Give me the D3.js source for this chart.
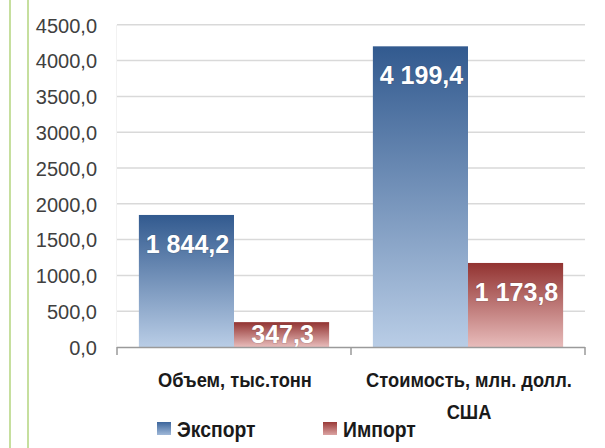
<!DOCTYPE html>
<html>
<head>
<meta charset="utf-8">
<script src="https://cdn.jsdelivr.net/npm/d3@7"></script>
<style>
  html, body { margin: 0; padding: 0; background: #fff; }
  svg { display: block; }
</style>
</head>
<body>
<svg id="chart" width="605" height="448"></svg>
<script>
const categories = ["Объем, тыс.тонн", "Стоимость, млн. долл. США"];
const categoryLines = [["Объем, тыс.тонн"], ["Стоимость, млн. долл.", "США"]];
const seriesNames = ["Экспорт", "Импорт"];
const exportValues = [1844.2, 4199.4];
const importValues = [347.3, 1173.8];
const yTicks = [0, 500, 1000, 1500, 2000, 2500, 3000, 3500, 4000, 4500];

const seriesValues = [exportValues, importValues];
const gradients = [
  { id: "gExp", top: "#325a8f", bottom: "#b9cde6", legTop: "#3d669c", legBottom: "#9fb8d8" },
  { id: "gImp", top: "#923331", bottom: "#e8bcbb", legTop: "#9a3a38", legBottom: "#dba3a2" }
];

const svg = d3.select("#chart");
const locale = d3.formatLocale({ decimal: ",", thousands: " ", grouping: [3], currency: ["", ""] });
const fmtTick = locale.format(".1f");
const fmtVal = locale.format(",.1f");

const plot = { left: 117, right: 585, top: 24.8, bottom: 347 };

const y = d3.scaleLinear().domain([0, 4500]).range([plot.bottom, plot.top]);
const x0 = d3.scaleBand().domain(categories).range([plot.left, plot.right]).paddingInner(0).paddingOuter(0);
const x1 = d3.scaleBand().domain(seriesNames).range([0, x0.bandwidth()]).paddingInner(0).paddingOuter(0.23);

// decorative green page lines
svg.append("rect").attr("x", 9).attr("y", 0).attr("width", 2).attr("height", 448).attr("fill", "#c6df9e");
svg.append("rect").attr("x", 27).attr("y", 0).attr("width", 2).attr("height", 448).attr("fill", "#c6df9e");

// defs gradients
const defs = svg.append("defs");
gradients.forEach(g => {
  const lg = defs.append("linearGradient").attr("id", g.id).attr("x1", 0).attr("y1", 0).attr("x2", 0).attr("y2", 1);
  lg.append("stop").attr("offset", "0%").attr("stop-color", g.top);
  lg.append("stop").attr("offset", "100%").attr("stop-color", g.bottom);
  const lg2 = defs.append("linearGradient").attr("id", g.id + "L").attr("x1", 0).attr("y1", 0).attr("x2", 0).attr("y2", 1);
  lg2.append("stop").attr("offset", "0%").attr("stop-color", g.legTop);
  lg2.append("stop").attr("offset", "100%").attr("stop-color", g.legBottom);
});

// faint plot-area left border
svg.append("line").attr("x1", plot.left - 0.5).attr("x2", plot.left - 0.5)
  .attr("y1", plot.top).attr("y2", plot.bottom).attr("stroke", "#f2f2f2").attr("stroke-width", 1);

// gridlines
svg.append("g").selectAll("line").data(yTicks.filter(d => d > 0)).join("line")
  .attr("x1", plot.left).attr("x2", plot.right)
  .attr("y1", d => y(d)).attr("y2", d => y(d))
  .attr("stroke", "#d9d9d9").attr("stroke-width", 1.5);

// y axis labels
const yAxis = d3.axisLeft(y).tickValues(yTicks).tickFormat(fmtTick).tickSize(0).tickPadding(0);
const gy = svg.append("g").attr("transform", `translate(97,0)`).call(yAxis);
gy.select(".domain").remove();
gy.selectAll("text")
  .attr("font-family", "'Liberation Sans', Arial, sans-serif")
  .attr("font-size", 20)
  .attr("fill", "#404040")
  .attr("dy", "0.36em");

// bars
const groups = svg.append("g").selectAll("g").data(categories).join("g")
  .attr("transform", d => `translate(${x0(d)},0)`);

groups.each(function(cat, ci) {
  const g = d3.select(this);
  seriesNames.forEach((s, si) => {
    const v = seriesValues[si][ci];
    const top = y(v);
    const h = y(0) - top;
    g.append("rect")
      .attr("x", x1(s)).attr("y", top)
      .attr("width", x1.bandwidth()).attr("height", h)
      .attr("fill", `url(#${gradients[si].id})`);
    const base = h > 45 ? top + 38 : (top + y(0)) / 2 + 8.5;
    g.append("text")
      .attr("x", x1(s) + x1.bandwidth() / 2 + 1)
      .attr("y", base)
      .attr("text-anchor", "middle")
      .attr("font-family", "'Liberation Sans', Arial, sans-serif")
      .attr("font-weight", "bold")
      .attr("font-size", 25)
      .attr("fill", "#ffffff")
      .attr("style", "paint-order: stroke; stroke: rgba(60,60,60,0.18); stroke-width: 1.5px")
      .text(fmtVal(v));
  });
});

// x axis line and ticks
const xAxisG = svg.append("g");
xAxisG.append("line").attr("x1", plot.left).attr("x2", plot.right)
  .attr("y1", plot.bottom + 0.5).attr("y2", plot.bottom + 0.5)
  .attr("stroke", "#9a9a9a").attr("stroke-width", 1.5);
const tickXs = categories.map(c => x0(c)).concat([x0(categories[categories.length - 1]) + x0.bandwidth()]);
xAxisG.selectAll("line.tk").data(tickXs).join("line").attr("class", "tk")
  .attr("x1", d => d).attr("x2", d => d)
  .attr("y1", plot.bottom).attr("y2", plot.bottom + 8)
  .attr("stroke", "#9a9a9a").attr("stroke-width", 1.5);

// category labels (condensed to mimic the original narrow typeface)
categories.forEach((c, ci) => {
  const cx = x0(c) + x0.bandwidth() / 2 + 1;
  categoryLines[ci].forEach((line, li) => {
    svg.append("text")
      .attr("transform", `translate(${cx},${387 + li * 32}) scale(0.87,1)`)
      .attr("text-anchor", "middle")
      .attr("font-family", "'Liberation Sans', Arial, sans-serif")
      .attr("font-weight", "bold")
      .attr("font-size", 21)
      .attr("fill", "#1a1a1a")
      .text(line);
  });
});

// legend
const legendX = [157, 323];
seriesNames.forEach((s, si) => {
  svg.append("rect").attr("x", legendX[si]).attr("y", 422).attr("width", 14).attr("height", 13)
    .attr("fill", `url(#${gradients[si].id}L)`);
  svg.append("text")
    .attr("transform", `translate(${legendX[si] + 20},437) scale(0.88,1)`)
    .attr("font-family", "'Liberation Sans', Arial, sans-serif")
    .attr("font-weight", "bold")
    .attr("font-size", 22)
    .attr("fill", "#1a1a1a")
    .text(s);
});
</script>
</body>
</html>
